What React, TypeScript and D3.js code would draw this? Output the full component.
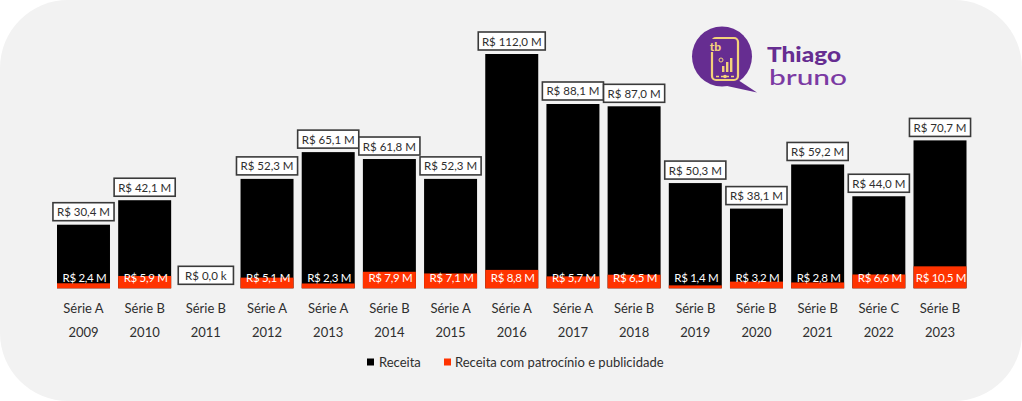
import React from "react";
import * as d3 from "d3";

const years = ["2009","2010","2011","2012","2013","2014","2015","2016","2017","2018","2019","2020","2021","2022","2023"];
const series = ["Série A","Série B","Série B","Série A","Série A","Série B","Série A","Série A","Série A","Série B","Série B","Série B","Série B","Série C","Série B"];
const receita = [30.4, 42.1, 0.0, 52.3, 65.1, 61.8, 52.3, 112.0, 88.1, 87.0, 50.3, 38.1, 59.2, 44.0, 70.7];
const patrocinio: (number | null)[] = [2.4, 5.9, null, 5.1, 2.3, 7.9, 7.1, 8.8, 5.7, 6.5, 1.4, 3.2, 2.8, 6.6, 10.5];
const legendLabels = ["Receita", "Receita com patrocínio e publicidade"];

const W = 1022, H = 401;
const FONT = "Lato, 'Open Sans', sans-serif";
const BLACK = "#000000";
const RED = "#ff3300";
const TXT = "#2e2e2e";

const fmt = (v: number) => {
  const s = (x: number) => x.toFixed(1).replace(".", ",");
  return v >= 1 ? `R$ ${s(v)} M` : `R$ ${s(v * 1000)} k`;
};

export default function App() {
  const x = d3.scaleBand<string>().domain(years).range([52.9, 970.6]).paddingInner(0.134).paddingOuter(0.067);
  const y = d3.scaleLinear().domain([0, 112]).range([288.3, 54]);
  const bw = x.bandwidth();
  const base = y(0);

  return (
    <svg width={W} height={H} style={{ position: "fixed", left: 0, top: 0, background: "#ffffff" }} fontFamily={FONT}>
      <rect x={0} y={0} width={W} height={H} rx={68} ry={68} fill="#f2f2f2" />

      {years.map((yr, i) => {
        const cx = (x(yr) as number) + bw / 2;
        const top = y(receita[i]);
        const lbl = fmt(receita[i]);
        const boxW = lbl.length * 5.9 + 8;
        const p = patrocinio[i];
        return (
          <g key={yr}>
            <rect x={x(yr)} y={top} width={bw} height={base - top} fill={BLACK} />
            {p !== null && (
              <rect x={x(yr)} y={y(p)} width={bw} height={base - y(p)} fill={RED} />
            )}
            <rect x={cx - boxW / 2} y={top - 22} width={boxW} height={18} fill="#ffffff" stroke="#3a3a3a" strokeWidth={1.6} />
            <text x={cx} y={top - 13} textAnchor="middle" dominantBaseline="central" fontSize={11.5} fill={TXT}>{lbl}</text>
            {p !== null && (
              <text x={cx + 1} y={277} textAnchor="middle" dominantBaseline="central" fontSize={11.5} fill="#ffffff" letterSpacing={-0.3}>{fmt(p)}</text>
            )}
            <text x={cx} y={308} textAnchor="middle" dominantBaseline="central" fontSize={13} fill={TXT}>{series[i]}</text>
            <text x={cx} y={332} textAnchor="middle" dominantBaseline="central" fontSize={13} fill={TXT}>{yr}</text>
          </g>
        );
      })}

      <g>
        <rect x={367} y={358.5} width={7} height={7} fill={BLACK} />
        <text x={379} y={362} dominantBaseline="central" fontSize={13} fill={TXT}>{legendLabels[0]}</text>
        <rect x={444} y={358.5} width={7} height={7} fill={RED} />
        <text x={455} y={362} dominantBaseline="central" fontSize={13} fill={TXT}>{legendLabels[1]}</text>
      </g>

      <g>
        <path d="M 738 80 L 757 92.5 L 727 86 Z" fill="#662d91" />
        <circle cx={722} cy={56.5} r={30} fill="#662d91" />
        <rect x={712} y={38} width={26} height={42} rx={4} fill="none" stroke="#f3d27a" strokeWidth={2.2} />
        <rect x={706} y={39} width={19} height={13} fill="#662d91" />
        <text x={715.5} y={46} textAnchor="middle" dominantBaseline="central" fontSize={12} fontWeight={900} fill="#f3d27a">tb</text>
        <rect x={722} y={66} width={2.4} height={6} fill="#f3d27a" />
        <rect x={726} y={62} width={2.4} height={10} fill="#f3d27a" />
        <rect x={730} y={58} width={2.4} height={14} fill="#f3d27a" />
        <circle cx={721} cy={60} r={2} fill="none" stroke="#f3d27a" strokeWidth={1} />
        <line x1={716} y1={76.5} x2={734} y2={76.5} stroke="#f3d27a" strokeWidth={1.5} strokeDasharray="3 2" />
        <circle cx={725} cy={76.5} r={1.8} fill="#f3d27a" />
        <text x={767} y={62} fontSize={21.5} fontWeight={900} fill="#662d91" textLength={74} lengthAdjust="spacingAndGlyphs">Thiago</text>
        <text x={769} y={85} fontSize={21.5} fontWeight={500} fill="#7b3aa3" textLength={78} lengthAdjust="spacingAndGlyphs">bruno</text>
      </g>
    </svg>
  );
}
